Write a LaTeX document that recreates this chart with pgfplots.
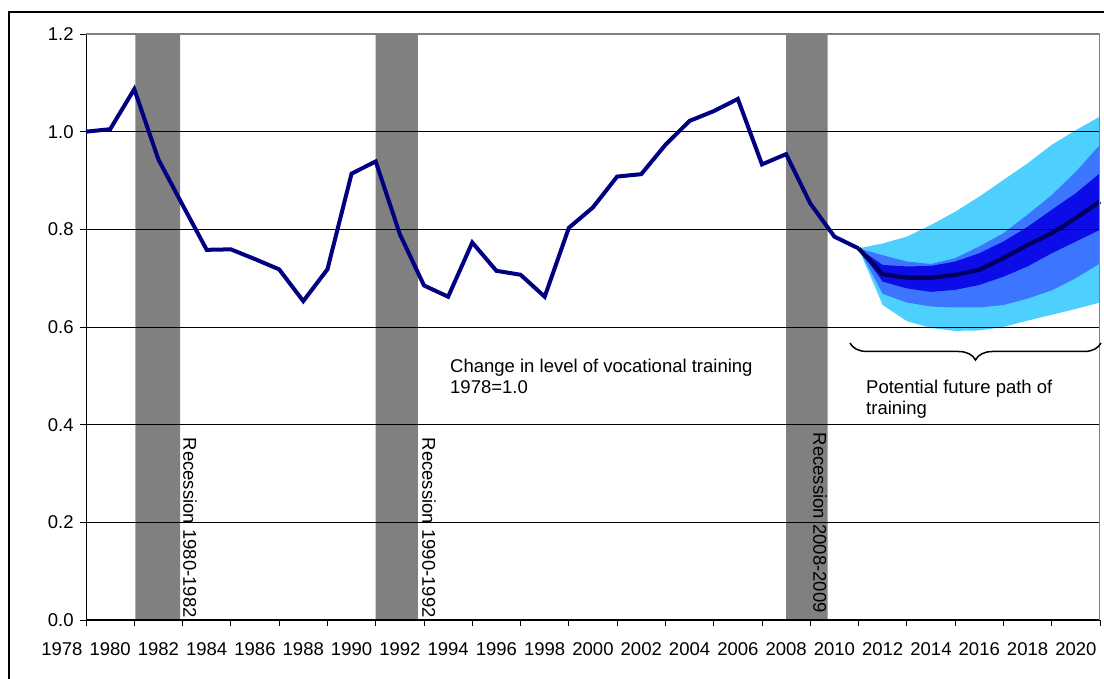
\documentclass[border=0pt]{standalone}
\usepackage{fontspec}
\setmainfont{Liberation Sans}
\usepackage{pgfplots}
\pgfplotsset{compat=1.18}
\usetikzlibrary{decorations.pathreplacing}
\definecolor{navyline}{RGB}{0,0,128}
\definecolor{navydark}{RGB}{0,0,96}
\definecolor{recgray}{RGB}{128,128,128}
\definecolor{fanouter}{RGB}{78,208,255}
\definecolor{fanmid}{RGB}{60,118,255}
\definecolor{fandark}{RGB}{12,12,232}
\begin{document}
\fontsize{18.5}{21}\selectfont
\begin{tikzpicture}[x=1pt,y=1pt]
\begin{axis}[
  at={(86pt,59pt)}, anchor=south west,
  scale only axis, width=1014pt, height=586pt,
  xmin=1978, xmax=2020, ymin=0, ymax=1.2,
  clip=false, set layers,
  axis x line*=bottom, axis y line*=left,
  axis line style={black, line width=1pt},
  xtick={1978,1980,...,2020},
  minor x tick num=1,
  ytick={0,0.2,0.4,0.6,0.8,1.0,1.2},
  tick align=outside,
  major tick length=6pt, minor tick length=6pt,
  every tick/.style={black, line width=0.8pt},
  ymajorgrids, grid style={black, line width=0.8pt},
  xticklabel style={xshift=-24.14pt, yshift=-10pt, /pgf/number format/1000 sep={}},
  yticklabel style={/pgf/number format/.cd, fixed, fixed zerofill, precision=1},
  /pgf/number format/assume math mode=true,
  ticklabel style={font=\fontsize{18.5}{21}\selectfont},
]
% recession bars
\addplot[fill=recgray, draw=none, on layer=axis background] coordinates {(1980.05,0) (1980.05,1.2) (1981.9,1.2) (1981.9,0) (1980.05,0)};
\addplot[fill=recgray, draw=none, on layer=axis background] coordinates {(1990.0,0) (1990.0,1.2) (1991.75,1.2) (1991.75,0) (1990.0,0)};
\addplot[fill=recgray, draw=none, on layer=axis background] coordinates {(2007.0,0) (2007.0,1.2) (2008.72,1.2) (2008.72,0) (2007.0,0)};
% fan outer
\addplot[fill=fanouter, draw=none, on layer=axis background] coordinates {
(2010,0.761) (2011,0.771) (2012,0.785) (2013,0.809) (2014,0.836) (2015,0.867) (2016,0.901) (2017,0.935) (2018,0.973) (2019,1.003) (2020,1.031)
(2020,0.650) (2019,0.637) (2018,0.625) (2017,0.613) (2016,0.600) (2015,0.593) (2014,0.592) (2013,0.598) (2012,0.612) (2011,0.645) (2010,0.761)};
% fan middle
\addplot[fill=fanmid, draw=none, on layer=axis background] coordinates {
(2010,0.761) (2011,0.747) (2012,0.734) (2013,0.729) (2014,0.741) (2015,0.765) (2016,0.792) (2017,0.830) (2018,0.870) (2019,0.918) (2020,0.973)
(2020,0.730) (2019,0.700) (2018,0.675) (2017,0.658) (2016,0.645) (2015,0.640) (2014,0.640) (2013,0.642) (2012,0.650) (2011,0.668) (2010,0.761)};
% fan dark
\addplot[fill=fandark, draw=none, on layer=axis background] coordinates {
(2010,0.761) (2011,0.727) (2012,0.724) (2013,0.725) (2014,0.734) (2015,0.751) (2016,0.775) (2017,0.805) (2018,0.840) (2019,0.874) (2020,0.915)
(2020,0.799) (2019,0.775) (2018,0.751) (2017,0.724) (2016,0.703) (2015,0.686) (2014,0.676) (2013,0.672) (2012,0.679) (2011,0.693) (2010,0.761)};
% historical line
\addplot[navyline, line width=4pt, line join=miter, mark=none] coordinates {
(1978,1.000) (1979,1.005) (1980,1.087) (1981,0.943) (1982,0.850) (1983,0.758) (1984,0.759) (1985,0.739) (1986,0.718) (1987,0.653)
(1988,0.718) (1989,0.914) (1990,0.939) (1991,0.790) (1992,0.685) (1993,0.662) (1994,0.773) (1995,0.715) (1996,0.707) (1997,0.662)
(1998,0.803) (1999,0.845) (2000,0.908) (2001,0.913) (2002,0.973) (2003,1.022) (2004,1.042) (2005,1.067) (2006,0.933) (2007,0.954)
(2008,0.853) (2009,0.785) (2010,0.761)};
% projected central path
\addplot[navydark, line width=4.2pt, line join=round, mark=none] coordinates {
(2010,0.761) (2011,0.708) (2012,0.701) (2013,0.701) (2014,0.7065) (2015,0.717) (2016,0.741) (2017,0.768) (2018,0.792) (2019,0.823) (2020,0.857)};
\draw[recgray, line width=1.4pt] (axis cs:1978,1.2) -- (axis cs:2020,1.2);
\draw[recgray, line width=1pt] (axis cs:2020,0) -- (axis cs:2020,1.2);
\end{axis}
\draw[line width=2pt] (9,-20) -- (9,667) -- (1130,667);
\node[rotate=-90, anchor=east, inner sep=0pt] at (190,61) {Recession 1980-1982};
\node[rotate=-90, anchor=east, inner sep=0pt] at (429,61) {Recession 1990-1992};
\node[rotate=-90, anchor=east, inner sep=0pt] at (820,66) {Recession 2008-2009};
\node[anchor=north west, align=left, inner sep=0pt, font=\fontsize{18.5}{20.5}\selectfont] at (450,320) {Change in level of vocational training\\1978=1.0};
\node[anchor=north west, align=left, inner sep=0pt, font=\fontsize{18.5}{21}\selectfont] at (866,299.5) {Potential future path of\\training};
\draw[line width=1.5pt, decorate, decoration={brace, mirror, amplitude=17pt}] (850,336) -- (1101,336);
\pgfresetboundingbox
\useasboundingbox (0,0) rectangle (1104,679);
\end{tikzpicture}
\end{document}
